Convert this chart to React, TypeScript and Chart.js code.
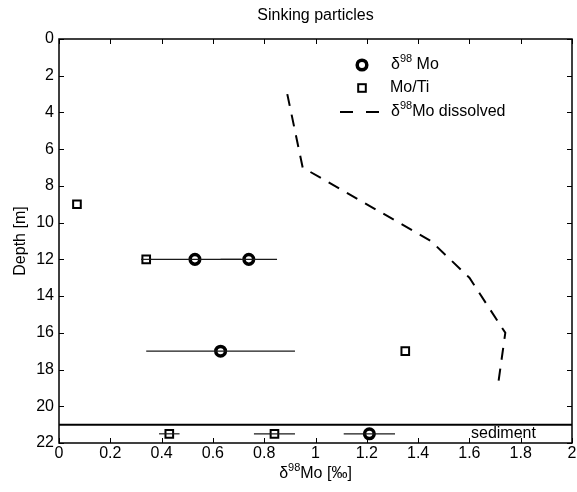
import React, { useEffect, useRef } from "react";
import { Chart, registerables } from "chart.js";

Chart.register(...registerables);

// ---- data ----
const moValue = [0.53, 0.74, 0.63, 1.21];
const moDepth = [12, 12, 17, 21.5];
const moErrLow = [0.35, 0.63, 0.34, 1.11];
const moErrHigh = [0.71, 0.85, 0.92, 1.31];

const tiValue = [0.07, 0.34, 1.35, 0.43, 0.84];
const tiDepth = [9, 12, 17, 21.5, 21.5];
const tiErrLow = [null, 0.32, null, 0.39, 0.76];
const tiErrHigh = [null, 0.36, null, 0.47, 0.92];

const dissolvedValue = [0.89, 0.95, 1.45, 1.6, 1.74, 1.71];
const dissolvedDepth = [3, 7, 11, 13, 16, 19];

const sedimentDepth = 21;
const xTickStep = 0.2;
const yTickStep = 2;

const FONT = "'Liberation Sans', Arial, Helvetica, sans-serif";
const FS = 16;

function drawRich(ctx: CanvasRenderingContext2D, parts: [string, boolean][], x: number, y: number, size: number, align: "left" | "center") {
  const supSize = Math.round(size * 0.68);
  let total = 0;
  const widths = parts.map(([t, sup]) => {
    ctx.font = `${sup ? supSize : size}px ${FONT}`;
    const w = ctx.measureText(t).width;
    total += w;
    return w;
  });
  let cx = align === "center" ? x - total / 2 : x;
  ctx.textBaseline = "middle";
  ctx.textAlign = "left";
  parts.forEach(([t, sup], i) => {
    ctx.font = `${sup ? supSize : size}px ${FONT}`;
    ctx.fillText(t, cx, sup ? y - size * 0.38 : y);
    cx += widths[i];
  });
}

const decor = {
  id: "decor",
  afterDatasetsDraw(chart: any) {
    const { ctx, chartArea: a, scales } = chart;
    const xs = scales.x;
    const ys = scales.y;
    ctx.save();
    // error bars
    ctx.strokeStyle = "#1a1a1a";
    ctx.lineWidth = 1.2;
    const bar = (lo: number | null, hi: number | null, d: number) => {
      if (lo == null || hi == null) return;
      const py = ys.getPixelForValue(d);
      ctx.beginPath();
      ctx.moveTo(xs.getPixelForValue(lo), py);
      ctx.lineTo(xs.getPixelForValue(hi), py);
      ctx.stroke();
    };
    moDepth.forEach((d, i) => bar(moErrLow[i], moErrHigh[i], d));
    tiDepth.forEach((d, i) => bar(tiErrLow[i], tiErrHigh[i], d));

    // sediment line
    ctx.strokeStyle = "#000";
    ctx.lineWidth = 2;
    const sy = ys.getPixelForValue(sedimentDepth);
    ctx.beginPath();
    ctx.moveTo(a.left, sy);
    ctx.lineTo(a.right, sy);
    ctx.stroke();

    // frame
    ctx.lineWidth = 1.5;
    ctx.strokeRect(a.left, a.top, a.right - a.left, a.bottom - a.top);

    // inward ticks
    ctx.lineWidth = 1;
    const tl = 5;
    for (let v = 0; v <= 2.0001; v += xTickStep) {
      const px = Math.round(xs.getPixelForValue(v)) + 0.5;
      ctx.beginPath();
      ctx.moveTo(px, a.bottom);
      ctx.lineTo(px, a.bottom - tl);
      ctx.moveTo(px, a.top);
      ctx.lineTo(px, a.top + tl);
      ctx.stroke();
    }
    for (let v = 0; v <= 22.0001; v += yTickStep) {
      const py = Math.round(ys.getPixelForValue(v)) + 0.5;
      ctx.beginPath();
      ctx.moveTo(a.left, py);
      ctx.lineTo(a.left + tl, py);
      ctx.moveTo(a.right, py);
      ctx.lineTo(a.right - tl, py);
      ctx.stroke();
    }

    ctx.fillStyle = "#000";
    // title
    ctx.font = `${FS}px ${FONT}`;
    ctx.textAlign = "center";
    ctx.textBaseline = "middle";
    ctx.fillText("Sinking particles", (a.left + a.right) / 2, 16);

    // x title
    drawRich(ctx, [["δ", false], ["98", true], ["Mo [‰]", false]], (a.left + a.right) / 2, 474, FS, "center");

    // y title
    ctx.save();
    ctx.translate(21, (a.top + a.bottom) / 2);
    ctx.rotate(-Math.PI / 2);
    ctx.font = `${FS}px ${FONT}`;
    ctx.textAlign = "center";
    ctx.textBaseline = "middle";
    ctx.fillText("Depth [m]", 0, 0);
    ctx.restore();

    // sediment label
    ctx.font = `${FS}px ${FONT}`;
    ctx.textAlign = "left";
    ctx.textBaseline = "middle";
    ctx.fillText("sediment", 471, ys.getPixelForValue(21.5));

    // legend
    const lx = 362;
    ctx.strokeStyle = "#000";
    ctx.beginPath();
    ctx.lineWidth = 3.5;
    ctx.fillStyle = "#fff";
    ctx.arc(lx, 65, 4.8, 0, Math.PI * 2);
    ctx.fill();
    ctx.stroke();
    ctx.lineWidth = 2;
    ctx.fillRect(lx - 3.8, 88 - 3.8, 7.6, 7.6);
    ctx.strokeRect(lx - 3.8, 88 - 3.8, 7.6, 7.6);
    ctx.setLineDash([13, 13]);
    ctx.beginPath();
    ctx.moveTo(340, 112);
    ctx.lineTo(380, 112);
    ctx.stroke();
    ctx.setLineDash([]);
    ctx.fillStyle = "#000";
    drawRich(ctx, [["δ", false], ["98", true], [" Mo", false]], 391, 65, FS, "left");
    drawRich(ctx, [["Mo/Ti", false]], 390, 88, FS, "left");
    drawRich(ctx, [["δ", false], ["98", true], ["Mo dissolved", false]], 391, 112, FS, "left");

    ctx.restore();
  },
};

export default function App() {
  const ref = useRef<HTMLCanvasElement>(null);
  useEffect(() => {
    document.body.style.margin = "0";
    const tickFont = { family: FONT, size: FS };
    const chart = new Chart(ref.current as HTMLCanvasElement, {
      type: "scatter",
      data: {
        datasets: [
          {
            label: "δ98Mo dissolved",
            data: dissolvedValue.map((v, i) => ({ x: v, y: dissolvedDepth[i] })),
            showLine: true,
            borderColor: "#000",
            borderWidth: 2,
            borderDash: [12, 9],
            pointRadius: 0,
            tension: 0,
          },
          {
            label: "Mo/Ti",
            data: tiValue.map((v, i) => ({ x: v, y: tiDepth[i] })),
            pointStyle: "rect",
            pointRadius: 5.4,
            borderWidth: 2,
            borderColor: "#000",
            backgroundColor: "#fff",
          },
          {
            label: "δ98Mo",
            data: moValue.map((v, i) => ({ x: v, y: moDepth[i] })),
            pointStyle: "circle",
            pointRadius: 4.8,
            borderWidth: 3.5,
            borderColor: "#000",
            backgroundColor: "#fff",
          },
        ],
      },
      options: {
        animation: false,
        responsive: false,
        layout: { autoPadding: false, padding: { top: 39, right: 5, left: 0, bottom: 0 } },
        plugins: { legend: { display: false }, tooltip: { enabled: false }, title: { display: false } },
        scales: {
          x: {
            type: "linear",
            min: 0,
            max: 2,
            ticks: {
              stepSize: xTickStep,
              padding: 1,
              font: tickFont,
              color: "#000",
              callback: (v: any) => String(Number(Number(v).toFixed(1))),
            },
            grid: { display: false, drawTicks: false },
            border: { display: false },
            afterFit: (s: any) => {
              s.height = 49;
              s.paddingLeft = 0;
              s.paddingRight = 0;
            },
          },
          y: {
            type: "linear",
            reverse: true,
            min: 0,
            max: 22,
            ticks: { stepSize: yTickStep, padding: 5, font: tickFont, color: "#000" },
            grid: { display: false, drawTicks: false },
            border: { display: false },
            afterFit: (s: any) => {
              s.width = 59;
              s.paddingTop = 0;
              s.paddingBottom = 0;
            },
          },
        },
      },
      plugins: [decor],
    });
    return () => chart.destroy();
  }, []);
  return <canvas ref={ref} width={577} height={492} style={{ display: "block" }} />;
}
